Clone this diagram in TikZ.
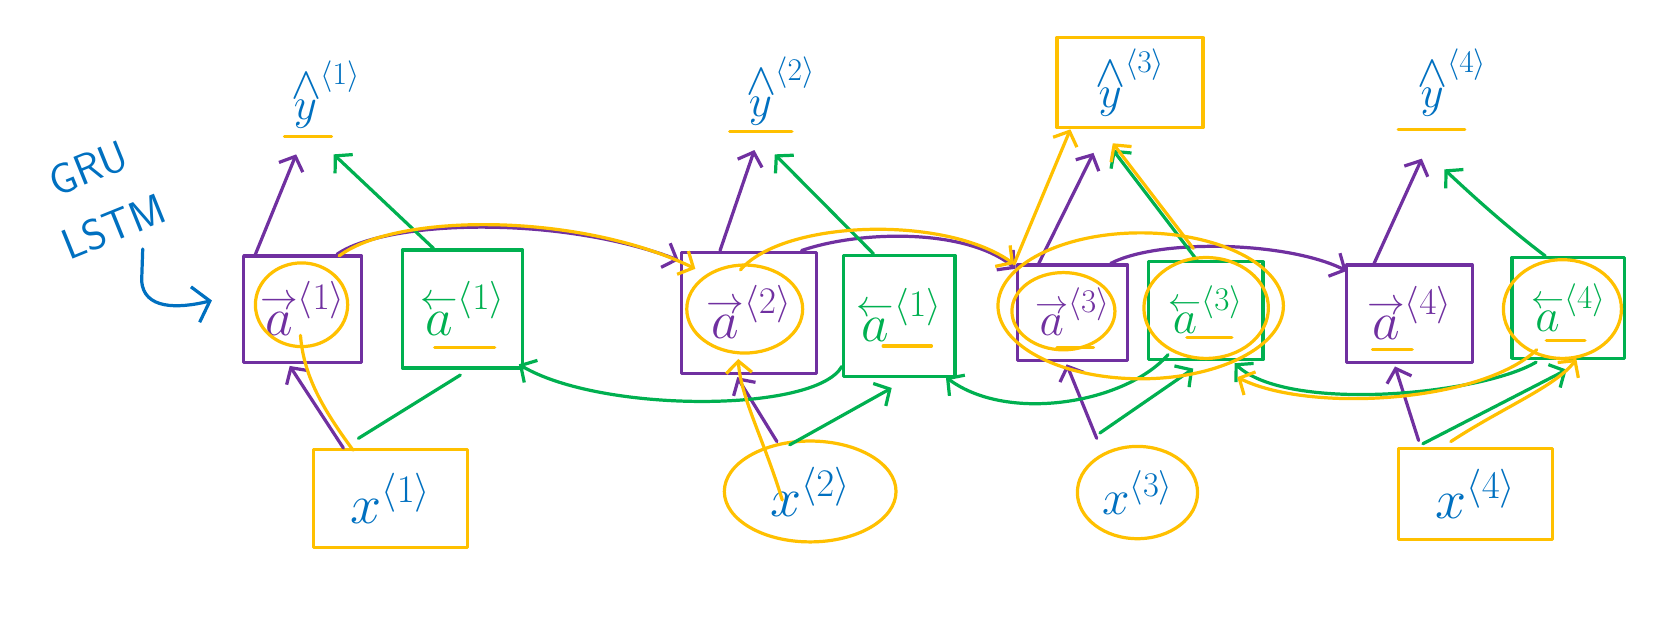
\RequirePackage{fix-cm}
\documentclass[tikz,border=0pt]{standalone}
\usetikzlibrary{arrows.meta,shapes.geometric,calc}
\definecolor{purp}{HTML}{7030A0}
\definecolor{grn}{HTML}{00B050}
\definecolor{yel}{HTML}{FFC000}
\definecolor{blu}{HTML}{0070C0}
\newcommand{\yhat}[1]{${\mathop{y}\limits^{\textstyle\wedge}}^{\langle #1\rangle}$}
\newcommand{\afwd}[1]{${\mathop{a}\limits^{\rightarrow}}^{\langle #1\rangle}$}
\newcommand{\abwd}[1]{${\mathop{a}\limits^{\leftarrow}}^{\langle #1\rangle}$}
\tikzset{
  ln/.style={line width=3pt, line cap=round, line join=round},
  P/.style={ln, draw=purp},
  G/.style={ln, draw=grn},
  Y/.style={ln, draw=yel},
  B/.style={ln, draw=blu},
  hd/.style={-{Straight Barb[length=11pt,width=24pt]}},
  rbox/.style={draw, line width=3pt, inner sep=0pt, line join=round},
  pbox/.style={rbox, draw=purp, text=purp, font=\fontsize{50}{58}\selectfont},
  gbox/.style={rbox, draw=grn, text=grn, font=\fontsize{50}{58}\selectfont},
  ybox/.style={rbox, draw=yel, text=blu, font=\fontsize{52}{60}\selectfont},
  yell/.style={ellipse, draw=yel, line width=3pt, inner sep=0pt, text=blu, font=\fontsize{52}{60}\selectfont},
  hl/.style={ellipse, draw=yel, line width=3pt, inner sep=0pt},
  ylab/.style={text=blu, font=\fontsize{42}{50}\selectfont, inner sep=0pt, minimum width=80pt, minimum height=60pt},
  note/.style={text=blu, font=\sffamily\fontsize{40}{46}\selectfont, rotate=22, inner sep=0pt},
}
\begin{document}
\begin{tikzpicture}[x=1pt,y=-1pt]
\useasboundingbox (0,0) rectangle (1560,576);

% hidden-state boxes
\node[pbox, minimum width=110pt, minimum height=99pt] (pa1) at (282,288) {\afwd{1}};
\node[gbox, minimum width=112pt, minimum height=110pt] (ga1) at (431,288) {\abwd{1}};
\node[pbox, minimum width=126pt, minimum height=113pt] (pa2) at (698,291.5) {\afwd{2}};
\node[gbox, minimum width=104pt, minimum height=113pt] (ga2) at (838,294.5) {\abwd{1}};
\node[pbox, minimum width=103pt, minimum height=89pt, font=\fontsize{44}{52}\selectfont] (pa3) at (999.5,291.5) {\afwd{3}};
\node[gbox, minimum width=107pt, minimum height=91pt, font=\fontsize{44}{52}\selectfont] (ga3) at (1123.5,289.5) {\abwd{3}};
\node[pbox, minimum width=117pt, minimum height=91pt] (pa4) at (1313.5,292.5) {\afwd{4}};
\node[gbox, minimum width=105pt, minimum height=94pt, font=\fontsize{44}{52}\selectfont] (ga4) at (1461.5,287) {\abwd{4}};

% outputs
\node[ylab] (y1) at (303,88) {\yhat{1}};
\node[ylab] (y2) at (727,85) {\yhat{2}};
\node[ybox, minimum width=136pt, minimum height=84pt, font=\fontsize{42}{50}\selectfont] (y3) at (1053,77) {\yhat{3}};
\node[ylab] (y4) at (1353,77) {\yhat{4}};

% inputs
\node[ybox, minimum width=144pt, minimum height=91pt] (x1) at (364,464.5) {$x^{\langle 1\rangle}$};
\node[yell, minimum width=160pt, minimum height=94pt] (x2) at (755,458) {$x^{\langle 2\rangle}$};
\node[yell, minimum width=112pt, minimum height=86pt, font=\fontsize{46}{54}\selectfont] (x3) at (1060,459) {$x^{\langle 3\rangle}$};
\node[ybox, minimum width=144pt, minimum height=85pt] (x4) at (1375,460.5) {$x^{\langle 4\rangle}$};

% notes
\node[note] (gru) at (82,157) {GRU};
\node[note] (lstm) at (106,211) {LSTM};
\coordinate (hk) at (133,232);
\draw[B,-{Straight Barb[length=14pt,width=34pt]}] (hk) -- (132,262) .. controls (134,288) and (165,288) .. ($(pa1.west)+(-28,-8)$);

% purple: to outputs
\draw[P,hd] ($(pa1.north)+(-44,0)$) -- ($(y1.south)+(-27,24)$);
\draw[P,hd] ($(pa2.north)+(-27,0)$) -- ($(y2.south)+(-24,23)$);
\draw[P,hd] ($(pa3.north)+(-31.5,0)$) -- ($(y3.south)+(-34,22)$);
\draw[P,hd] ($(pa4.north)+(-33,0)$) -- ($(y4.south)+(-28,39)$);
% purple: from inputs
\draw[P,hd] ($(x1.north)+(-44,0)$) -- ($(pa1.south)+(-12,2)$);
\draw[P,hd] ($(x2.north)+(-31,2)$) -- ($(pa2.south)+(-11,2)$);
\draw[P,hd] ($(x3.north)+(-38,-6)$) -- ($(pa3.south)+(-5.5,2)$);
\draw[P,hd] ($(x4.north)+(-53,-6)$) -- ($(pa4.south)+(-13.5,2)$);
% purple: forward chain
\draw[P,hd] ($(pa1.north)+(32,0)$) .. controls (360,205) and (520,200) .. ($(pa2.north west)+(-1,9)$);
\draw[P,hd] ($(pa2.north)+(49,0)$) .. controls (800,215) and (900,212) .. ($(pa3.north west)+(0,5)$);
\draw[P,hd] ($(pa3.north)+(35.5,0)$) .. controls (1080,222) and (1200,225) .. ($(pa4.north west)+(1.5,7)$);

% green: to outputs
\draw[G,hd] ($(ga1.north)+(-27,0)$) -- ($(y1.south)+(8,24)$);
\draw[G,hd] ($(ga2.north)+(-24,0)$) -- ($(y2.south)+(-5,27)$);
\draw[G,hd] ($(ga3.north)+(-8,0)$) -- ($(y3.south)+(-16,19)$);
\draw[G,hd] ($(ga4.north)+(-21.5,0)$) .. controls (1405,212) and (1375,185) .. ($(y4.south)+(-7,49)$);
% green: from inputs
\draw[G] ($(x1.north)+(-30,-9)$) -- ($(ga1.south)+(-2,5)$);
\draw[G,hd] ($(x2.north)+(-19,5)$) -- ($(ga2.south)+(-7,9)$);
\draw[G,hd] ($(x3.north)+(-35,-11)$) -- ($(ga3.south)+(-11.5,7)$);
\draw[G,hd] ($(x4.north)+(-49,-3)$) -- ($(ga4.south)+(-1.5,9)$);
% green: backward chain
\draw[G,hd] ($(ga4.south west)+(24,2)$) .. controls (1380,368) and (1200,385) .. ($(ga3.south east)+(-28,2)$);
\draw[G,hd] ($(ga3.south west)+(20,-6)$) .. controls (1050,375) and (940,395) .. ($(ga2.south east)+(-10,-1)$);
\draw[G,hd] ($(ga2.south west)+(0,-11)$) .. controls (760,385) and (560,385) .. ($(ga1.south east)+(-5,-5)$);

% yellow highlights
\node[hl, minimum width=86pt, minimum height=78pt] (c1) at (281,284) {};
\node[hl, minimum width=108pt, minimum height=82pt] (c2) at (694,288) {};
\node[hl, minimum width=96pt, minimum height=72pt] (c3) at (991,290) {};
\node[hl, minimum width=266pt, minimum height=136pt] (cb) at (1063,285) {};
\node[hl, minimum width=116pt, minimum height=94pt] (c3g) at (1124,287) {};
\node[hl, minimum width=110pt, minimum height=92pt] (c4) at (1456,288) {};

\draw[Y] ($(x1.north)+(-35,2)$) .. controls (300,380) and (283,350) .. ($(c1.south)+(-1,-12)$);
\draw[Y,hd] ($(x2.center)+(-26,8)$) .. controls (712,410) and (690,370) .. ($(c2.south)+(-6,4)$);
\draw[Y,hd] ($(x4.north)+(-23,-5)$) .. controls (1400,380) and (1450,360) .. ($(c4.south)+(13,-1)$);
\draw[Y,hd] ($(c1.north)+(35,-5)$) .. controls (370,198) and (540,198) .. ($(c2.north)+(-46,5)$);
\draw[Y,hd] ($(c2.north)+(-4,6)$) .. controls (730,205) and (880,200) .. ($(cb.center)+(-118,-39)$);
\draw[Y,hd] ($(cb.center)+(-118,-39)$) -- ($(y3.south west)+(14,0)$);
\draw[Y,hd] ($(c3g.north)+(-12,-7)$) -- ($(y3.south)+(-16,13)$);
\draw[Y,hd] ($(c4.center)+(-24,38)$) .. controls (1380,375) and (1220,385) .. ($(c3g.south)+(29,16)$);

% yellow underlines
\draw[Y] ($(y1.south)+(-38,7)$) -- ($(y1.south)+(6,7)$);
\draw[Y] ($(y2.south)+(-47,6)$) -- ($(y2.south)+(11,6)$);
\draw[Y] ($(y4.south)+(-50,12)$) -- ($(y4.south)+(12,12)$);
\draw[Y] ($(ga1.center)+(-26,36)$) -- ($(ga1.center)+(30,36)$);
\draw[Y] ($(ga2.center)+(-15,28)$) -- ($(ga2.center)+(30,28)$);
\draw[Y] ($(ga3.center)+(-17.5,25)$) -- ($(ga3.center)+(24.5,25)$);
\draw[Y] ($(ga4.center)+(-20.5,30)$) -- ($(ga4.center)+(15.5,30)$);
\draw[Y] ($(pa3.center)+(-14.5,32)$) -- ($(pa3.center)+(19.5,32)$);
\draw[Y] ($(pa4.center)+(-34.5,33)$) -- ($(pa4.center)+(2.5,33)$);
\end{tikzpicture}
\end{document}
